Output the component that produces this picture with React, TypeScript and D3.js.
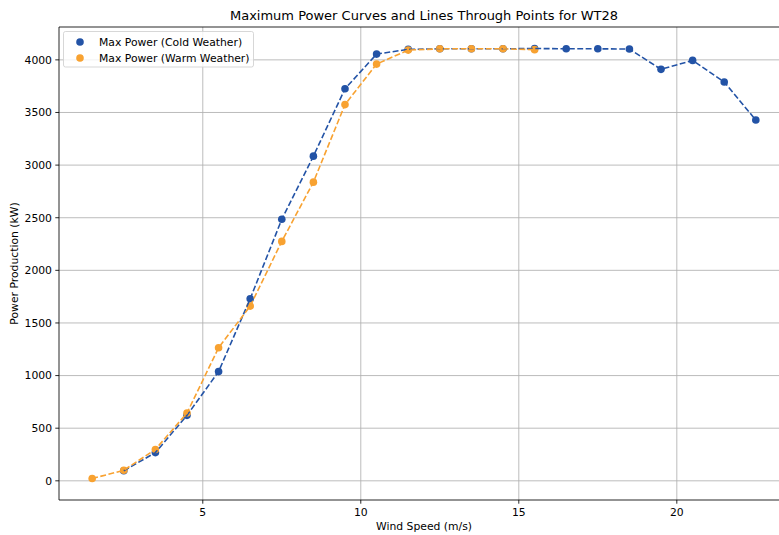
import React from "react";
import * as d3 from "d3";

const coldSpeeds = [2.5, 3.5, 4.5, 5.5, 6.5, 7.5, 8.5, 9.5, 10.5, 11.5, 12.5, 13.5, 14.5, 15.5, 16.5, 17.5, 18.5, 19.5, 20.5, 21.5, 22.5];
const coldPower = [95, 268, 622, 1038, 1730, 2485, 3085, 3725, 4055, 4100, 4105, 4105, 4105, 4108, 4105, 4105, 4103, 3910, 3995, 3790, 3428];
const warmSpeeds = [1.5, 2.5, 3.5, 4.5, 5.5, 6.5, 7.5, 8.5, 9.5, 10.5, 11.5, 12.5, 13.5, 14.5, 15.5];
const warmPower = [22, 100, 298, 644, 1265, 1660, 2275, 2838, 3575, 3960, 4093, 4105, 4105, 4105, 4097];
const xTicks = [5, 10, 15, 20];
const yTicks = [0, 500, 1000, 1500, 2000, 2500, 3000, 3500, 4000];

const W = 779, H = 535;
const left = 59, right = 789, top = 27, bottom = 500;
const BLUE = "#2353a6";
const ORANGE = "#f8a231";
const FONT = "DejaVu Sans, sans-serif";
const FS = 10.8;

export default function App() {
  const allX = [...coldSpeeds, ...warmSpeeds];
  const allY = [...coldPower, ...warmPower];
  const [x0, x1] = d3.extent(allX) as [number, number];
  const [y0, y1] = d3.extent(allY) as [number, number];
  const mx = (x1 - x0) * 0.05, my = (y1 - y0) * 0.05;
  const x = d3.scaleLinear().domain([x0 - mx, x1 + mx]).range([left, right]);
  const y = d3.scaleLinear().domain([y0 - my, y1 + my]).range([bottom, top]);
  const line = d3.line<[number, number]>().x(d => x(d[0])).y(d => y(d[1]));
  const cold = coldSpeeds.map((s, i) => [s, coldPower[i]] as [number, number]);
  const warm = warmSpeeds.map((s, i) => [s, warmPower[i]] as [number, number]);
  const r = 3.8;
  const dash = "5.9,2.5";
  return (
    <svg width={W} height={H} style={{ position: "absolute", left: 0, top: 0, background: "#fff" }} fontFamily={FONT}>
      <rect width={W} height={H} fill="#fff" />
      <defs>
        <clipPath id="plot"><rect x={left} y={top} width={right - left} height={bottom - top} /></clipPath>
      </defs>
      {xTicks.map(t => (
        <line key={"gx" + t} x1={x(t)} x2={x(t)} y1={top} y2={bottom} stroke="#b0b0b0" strokeWidth={0.85} />
      ))}
      {yTicks.map(t => (
        <line key={"gy" + t} x1={left} x2={right} y1={y(t)} y2={y(t)} stroke="#b0b0b0" strokeWidth={0.85} />
      ))}
      <g clipPath="url(#plot)">
        {cold.map((d, i) => <circle key={"c" + i} cx={x(d[0])} cy={y(d[1])} r={r} fill={BLUE} />)}
        {warm.map((d, i) => <circle key={"w" + i} cx={x(d[0])} cy={y(d[1])} r={r} fill={ORANGE} />)}
        <path d={line(cold) || ""} fill="none" stroke={BLUE} strokeWidth={1.6} strokeDasharray={dash} />
        <path d={line(warm) || ""} fill="none" stroke={ORANGE} strokeWidth={1.6} strokeDasharray={dash} />
      </g>
      <line x1={left} x2={left} y1={top} y2={bottom} stroke="#000" strokeWidth={0.85} />
      <line x1={left} x2={right} y1={bottom} y2={bottom} stroke="#000" strokeWidth={0.85} />
      <line x1={left} x2={right} y1={top} y2={top} stroke="#000" strokeWidth={0.85} />
      <line x1={right} x2={right} y1={top} y2={bottom} stroke="#000" strokeWidth={0.85} />
      {xTicks.map(t => (
        <g key={"tx" + t}>
          <line x1={x(t)} x2={x(t)} y1={bottom} y2={bottom + 3.7} stroke="#000" strokeWidth={0.85} />
          <text x={x(t)} y={bottom + 16} textAnchor="middle" fontSize={FS} fill="#000">{t}</text>
        </g>
      ))}
      {yTicks.map(t => (
        <g key={"ty" + t}>
          <line x1={left - 3.7} x2={left} y1={y(t)} y2={y(t)} stroke="#000" strokeWidth={0.85} />
          <text x={left - 7} y={y(t)} dy="0.36em" textAnchor="end" fontSize={FS} fill="#000">{t}</text>
        </g>
      ))}
      <text x={(left + right) / 2} y={19.5} textAnchor="middle" fontSize={13} fill="#000">
        Maximum Power Curves and Lines Through Points for WT28
      </text>
      <text x={(left + right) / 2} y={529.5} textAnchor="middle" fontSize={FS} fill="#000">Wind Speed (m/s)</text>
      <text transform={`translate(18,${(top + bottom) / 2}) rotate(-90)`} textAnchor="middle" fontSize={FS} fill="#000">
        Power Production (kW)
      </text>
      <g>
        <rect x={63.5} y={31.5} width={190} height={35.5} rx={2} fill="#fff" fillOpacity={0.8} stroke="#d0d0d0" strokeWidth={0.85} />
        <circle cx={80} cy={42} r={r} fill={BLUE} />
        <circle cx={80} cy={58} r={r} fill={ORANGE} />
        <text x={99} y={42} dy="0.36em" fontSize={FS} fill="#000">Max Power (Cold Weather)</text>
        <text x={99} y={58} dy="0.36em" fontSize={FS} fill="#000">Max Power (Warm Weather)</text>
      </g>
    </svg>
  );
}
